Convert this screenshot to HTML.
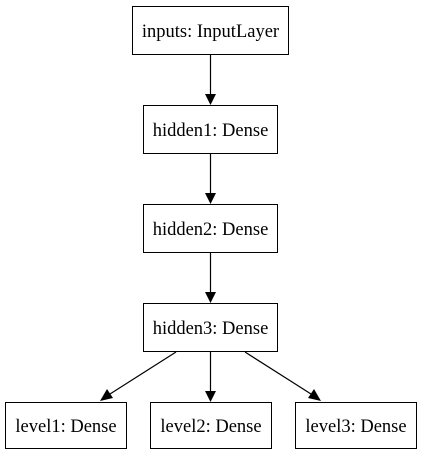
<!DOCTYPE html>
<html><head><style>html,body{margin:0;padding:0;background:#fff}</style></head><body>
<svg width="421" height="456" xmlns="http://www.w3.org/2000/svg" style="display:block">
<g fill="#fff" stroke="#000" stroke-width="1">
<rect x="132.5" y="6.5" width="156" height="48"/>
<rect x="143.5" y="105.5" width="134" height="48"/>
<rect x="143.5" y="204.5" width="134" height="48"/>
<rect x="143.5" y="303.5" width="134" height="48"/>
<rect x="5.5" y="402.5" width="121" height="46"/>
<rect x="150.5" y="402.5" width="121" height="46"/>
<rect x="295.5" y="402.5" width="121" height="46"/>
</g>
<g stroke="#000" stroke-width="1.2">
<line x1="210.5" y1="55" x2="210.5" y2="94"/>
<line x1="210.5" y1="154" x2="210.5" y2="193"/>
<line x1="210.5" y1="253" x2="210.5" y2="292"/>
<line x1="210.5" y1="352" x2="210.5" y2="391"/>
<line x1="176" y1="352" x2="110" y2="394"/>
<line x1="245" y1="352" x2="311" y2="394"/>
</g>
<g fill="#000">
<polygon points="205,94 216,94 210.5,105"/>
<polygon points="205,193 216,193 210.5,204"/>
<polygon points="205,292 216,292 210.5,303"/>
<polygon points="205,391 216,391 210.5,402"/>
<polygon points="107,389 113,398 100,401"/>
<polygon points="308,398 314,389 321,401"/>
</g>
<g font-family="Liberation Serif, serif" font-size="18.5" text-anchor="middle" fill="#000">
<text x="210.5" y="37">inputs: InputLayer</text>
<text x="210.5" y="136">hidden1: Dense</text>
<text x="210.5" y="235">hidden2: Dense</text>
<text x="210.5" y="334">hidden3: Dense</text>
<text x="66" y="432">level1: Dense</text>
<text x="211" y="432">level2: Dense</text>
<text x="356" y="432">level3: Dense</text>
</g>
</svg>
</body></html>
